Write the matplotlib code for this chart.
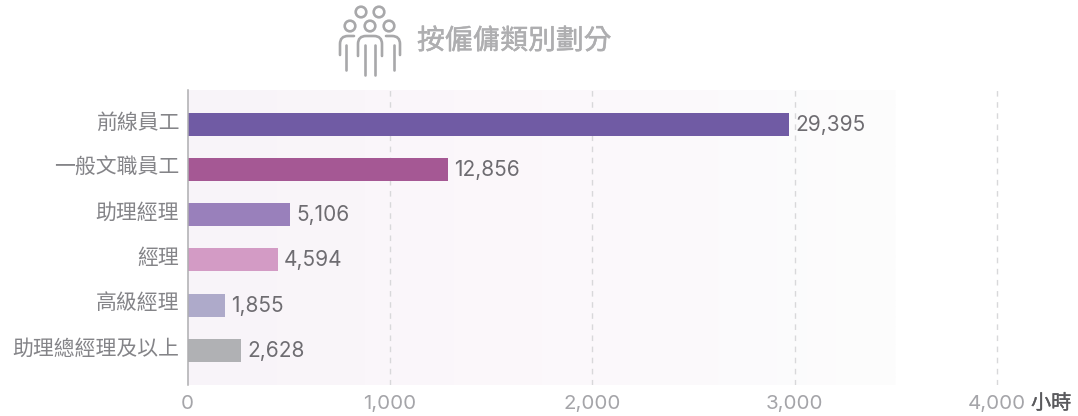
import numpy as np
import matplotlib
matplotlib.use("Agg")
import matplotlib.pyplot as plt
import matplotlib.patheffects as pe
from matplotlib.colors import LinearSegmentedColormap
from matplotlib.patches import Circle, PathPatch
from matplotlib.path import Path
from matplotlib.transforms import ScaledTranslation

plt.rcParams['font.family'] = ['Noto Sans CJK TC', 'DejaVu Sans']

categories = ["前線員工", "一般文職員工", "助理經理", "經理", "高級經理", "助理總經理及以上"]
bar_values = [2972, 1286, 507, 447, 185, 264]
bar_labels = ["29,395", "12,856", "5,106", "4,594", "1,855", "2,628"]
bar_colors = ["#705ba4", "#a55894", "#9980bb", "#d39bc5", "#aeaaca", "#b0b1b4"]
x_ticks = [0, 1000, 2000, 3000, 4000]
x_tick_labels = ["0", "1,000", "2,000", "3,000", "4,000"]

W, H = 1078, 416
fig = plt.figure(figsize=(W / 100, H / 100), dpi=100)
# axes box in pixels: x 187.5-1078, y 90-385
ax = fig.add_axes([187.5 / W, 1 - 385 / H, (1078 - 187.5) / W, 295 / H])

xmax = (1078 - 187.5) / 202.4 * 1000
ylim = (5.77, -0.76)

# soft background band
grad = LinearSegmentedColormap.from_list("bg", ["#f8f4f9", "#faf6fa", "#fcf8fb", "#fbfafc", "#fdfdfd"])
ax.imshow(np.linspace(0, 1, 256).reshape(1, -1), cmap=grad, aspect="auto",
          extent=[0, 3497, ylim[0], ylim[1]], zorder=0)
ax.set_xlim(0, xmax)
ax.set_ylim(*ylim)

y = np.arange(len(categories))
ax.barh(y, bar_values, height=0.51, color=bar_colors, zorder=3)

for t in x_ticks[1:]:
    ax.axvline(t, color="#d8d8da", lw=1, dashes=(4, 4), zorder=2)

# small nudge, Inter sits a bit high
down = ScaledTranslation(0, -0.5 / 100, fig.dpi_scale_trans)

for i in range(len(categories)):
    ax.text(bar_values[i] + 30, y[i], bar_labels[i], va="center", ha="left",
            fontsize=15, color="#6e6c71", family=["Inter", "DejaVu Sans"], zorder=4,
            transform=ax.transData + down)

# category labels as annotations, tick labels can't be nudged up
ax.set_yticks(y)
ax.set_yticklabels([])
for i in range(len(categories)):
    ax.annotate(categories[i], xy=(0, y[i]), xytext=(-6, 1.2), textcoords="offset points",
                ha="right", va="center", fontsize=15, color="#848488", annotation_clip=False)

ax.set_xticks(x_ticks)
ax.set_xticklabels(x_tick_labels, fontsize=14.8, color="#a5a5a9", family=["Inter", "DejaVu Sans"])
ax.tick_params(length=0)
ax.tick_params(axis="x", pad=7)
for s in ["top", "right", "bottom"]:
    ax.spines[s].set_visible(False)
ax.spines["left"].set_color("#aeaeb0")
ax.spines["left"].set_linewidth(1.1)
ax.spines["left"].set_zorder(5)

unit = fig.text(1031 / W, 1 - 403.5 / H, "小時", fontsize=14.5, color="#5a5a5d",
                va="center", ha="left")
unit.set_path_effects([pe.withStroke(linewidth=0.25, foreground="#5a5a5d")])
title = fig.text(417 / W, 1 - 41 / H, "按僱傭類別劃分", fontsize=20, color="#aeaeb0",
                 va="center", ha="left")
title.set_path_effects([pe.withStroke(linewidth=0.35, foreground="#aeaeb0")])

# people icon, pixel coordinates
ov = fig.add_axes([0, 0, 1, 1], facecolor="none")
ov.set_xlim(0, W)
ov.set_ylim(H, 0)
ov.axis("off")
gray = "#a8a8aa"
lw = 1.9


def stroke(verts, codes):
    ov.add_patch(PathPatch(Path(verts, codes), fill=False, ec=gray, lw=lw, capstyle="round"))


for cx, cy in [(361, 12), (379, 12), (350, 26), (370, 26), (389, 26)]:
    ov.add_patch(Circle((cx, cy), 5.3, fill=False, ec=gray, lw=lw))

M, L, C = Path.MOVETO, Path.LINETO, Path.CURVE3
# middle figure: shoulders and arms
stroke([(358, 56), (358, 44), (358, 36), (366, 36), (374, 36), (382, 36), (382, 44), (382, 56)],
       [M, L, C, C, L, C, C, L])
# side figures
stroke([(340, 55), (340, 44), (340, 36), (348, 36), (354, 36)], [M, L, C, C, L])
stroke([(400, 55), (400, 44), (400, 36), (392, 36), (386, 36)], [M, L, C, C, L])
# legs
for lx, top, bottom in [(365, 45, 75), (375, 45, 75), (346, 45, 70), (394, 45, 70)]:
    ov.plot([lx, lx], [top, bottom], color=gray, lw=lw, solid_capstyle="round")

fig.savefig("out.png", dpi=100)
